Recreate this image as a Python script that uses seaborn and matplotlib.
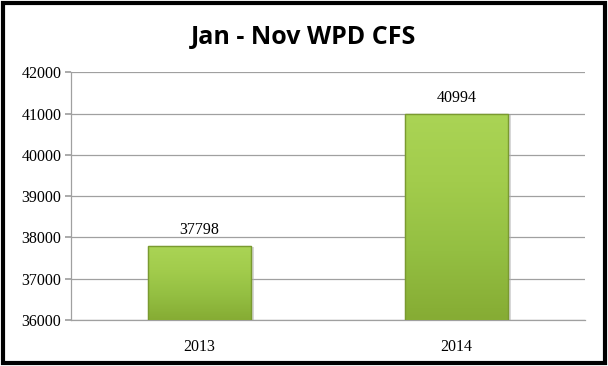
import numpy as np
import pandas as pd
import seaborn as sns
import matplotlib.pyplot as plt
from matplotlib.patches import Rectangle
from matplotlib.colors import LinearSegmentedColormap

# data
years = ['2013', '2014']
calls = [37798, 40994]
y_ticks = [36000, 37000, 38000, 39000, 40000, 41000, 42000]

df = pd.DataFrame({'year': years, 'calls': calls})

sns.set_theme(style='white')
plt.rcParams['font.family'] = ['Liberation Serif', 'DejaVu Serif']

fig = plt.figure(figsize=(6.08, 3.66), dpi=100)
ax = fig.add_axes([0.1168, 0.1257, 0.845, 0.677])

sns.barplot(data=df, x='year', y='calls', color='#98c444', width=0.4,
            edgecolor='#7a9a30', linewidth=0.8, ax=ax, zorder=3)

# gradient fill on each bar (excel-like bevel look)
grad = np.linspace(0, 1, 100).reshape(-1, 1)
cmap = LinearSegmentedColormap.from_list('g', ['#86ac34', '#94bf42', '#a2cc4c', '#aad455'])
for p in ax.patches:
    x0, y0 = p.get_x(), p.get_y()
    w, h = p.get_width(), p.get_height()
    ax.add_patch(Rectangle((x0 + 0.012, 36000), w, y0 + h - 36000 - 40,
                           color='#b0b0b0', alpha=0.5, zorder=2, lw=0))
    im = ax.imshow(grad, extent=[x0, x0 + w, 36000, y0 + h], origin='lower',
                   cmap=cmap, aspect='auto', zorder=3.5)
    im.set_clip_path(p)
    ax.add_patch(Rectangle((x0, y0), w, h, fill=False, edgecolor='#7a9a30',
                           linewidth=1.0, zorder=4))
    ax.text(x0 + w / 2, y0 + h + 180, f'{int(y0 + h)}', ha='center', va='bottom',
            fontsize=11.5, color='black', zorder=5)

ax.set_aspect('auto')
ax.set_xlim(-0.5, 1.5)
ax.set_ylim(36000, 42000)
ax.set_yticks(y_ticks)

ax.yaxis.grid(True, color='#a0a0a0', linewidth=0.9)
ax.set_axisbelow(True)
for s in ['top', 'right']:
    ax.spines[s].set_visible(False)
for s in ['left', 'bottom']:
    ax.spines[s].set_color('#a0a0a0')
    ax.spines[s].set_linewidth(0.9)
ax.tick_params(axis='y', left=True, length=4, color='#a0a0a0', labelsize=11.5, pad=3,
               labelcolor='black')
ax.tick_params(axis='x', bottom=False, labelsize=11.5, pad=8, labelcolor='black')
ax.set_xlabel('')
ax.set_ylabel('')

fig.text(0.5, 0.898, 'Jan - Nov WPD CFS', ha='center', va='center', fontsize=18,
         family=['Open Sans', 'DejaVu Sans'], fontweight='bold', color='black')

# black border round the whole chart
fig.patches.append(Rectangle((0.005, 0.008), 0.99, 0.984, transform=fig.transFigure,
                             fill=False, edgecolor='black', linewidth=3))

fig.savefig('out.png', dpi=100)
